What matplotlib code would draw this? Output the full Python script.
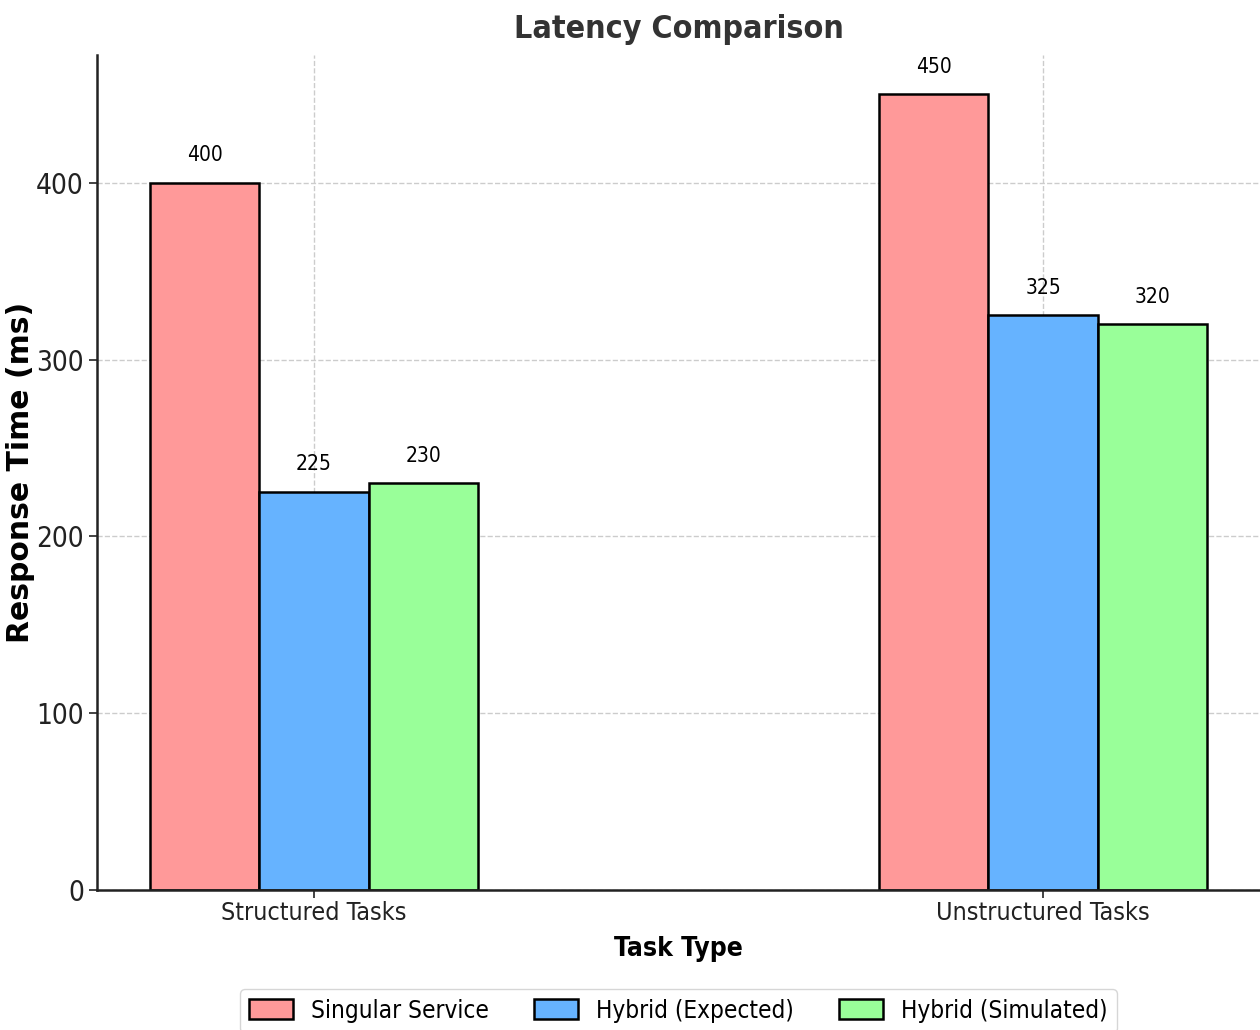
import numpy as np
import matplotlib
matplotlib.use("Agg")
import matplotlib.pyplot as plt

categories = ["Structured Tasks", "Unstructured Tasks"]
series = ["Singular Service", "Hybrid (Expected)", "Hybrid (Simulated)"]
singular = [400, 450]
hybrid_expected = [225, 325]
hybrid_simulated = [230, 320]
colors = ["#ff9999", "#66b3ff", "#99ff99"]

plt.rcParams["font.family"] = "DejaVu Sans"
plt.rcParams["font.stretch"] = "condensed"

fig = plt.figure(figsize=(12.6, 10.3), dpi=100)
ax = fig.add_axes([0.077, 0.136, 0.923, 0.811])

x = np.arange(len(categories))
w = 0.15
for i, (vals, lab, c) in enumerate(zip([singular, hybrid_expected, hybrid_simulated], series, colors)):
    bars = ax.bar(x + (i - 1) * w, vals, w, color=c, edgecolor="black", linewidth=1.8, label=lab, zorder=2)
    for b, v in zip(bars, vals):
        ax.text(b.get_x() + b.get_width() / 2, v + 10, str(v), ha="center", va="bottom",
                fontsize=15, fontstretch="condensed")

ax.set_xticks(x)
ax.set_xticklabels(categories, fontsize=18, fontstretch="condensed")
ax.tick_params(axis="y", labelsize=20, length=6, width=1.2, colors="#222222")
ax.tick_params(axis="x", length=6, width=1.2, pad=2, colors="#222222")
for t in ax.get_yticklabels():
    t.set_fontstretch("condensed")
ax.set_ylim(0, 472.5)
ax.set_xlim(-0.2975, 1.2975)
ax.grid(True, linestyle="--", color="#cccccc", linewidth=1, zorder=0)
ax.set_axisbelow(True)
ax.spines["top"].set_visible(False)
ax.spines["right"].set_visible(False)
ax.spines["left"].set_linewidth(1.8)
ax.spines["bottom"].set_linewidth(1.8)
ax.spines["left"].set_color("#222222")
ax.spines["bottom"].set_color("#222222")

ax.set_title("Latency Comparison", fontsize=23, fontweight="bold", fontstretch="condensed",
             color="#333333", pad=12)
ax.set_xlabel("Task Type", fontsize=19, fontweight="bold", fontstretch="condensed", labelpad=8)
ax.set_ylabel("Response Time (ms)", fontsize=21.5, fontweight="bold", fontstretch="normal",
              family="DejaVu Sans")
ax.yaxis.set_label_coords(-0.053, 0.5)

leg = ax.legend(loc="upper center", bbox_to_anchor=(0.5, -0.104), ncol=3,
                frameon=True, handlelength=1.8, handleheight=0.9, handletextpad=0.75,
                columnspacing=1.85, prop={"size": 17.5, "stretch": "condensed"})
for h in leg.legend_handles:
    h.set_linewidth(1.8)

fig.savefig("out.png", dpi=100)
